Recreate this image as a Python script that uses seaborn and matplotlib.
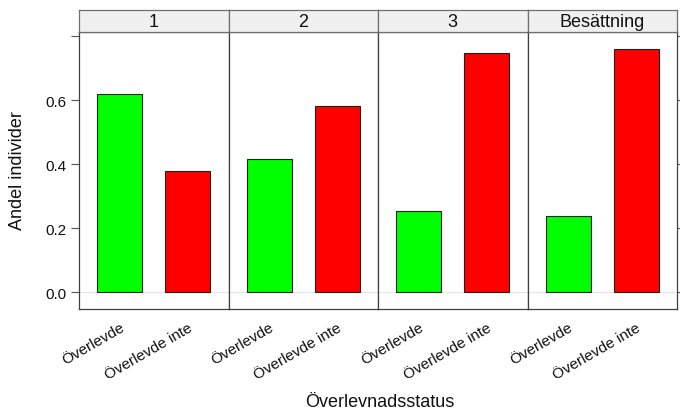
import matplotlib
matplotlib.use("Agg")
import matplotlib.pyplot as plt
import seaborn as sns
import pandas as pd

sns.set_style("white")
plt.rcParams["font.family"] = ["Liberation Sans", "DejaVu Sans"]

# Survival shares per travel class
klasser = ["1", "2", "3", "Besättning"]
status = ["Överlevde", "Överlevde inte"]
andel_overlevde = [0.62, 0.415, 0.252, 0.239]
andel_inte = [0.378, 0.582, 0.746, 0.758]
farger = {"Överlevde": "#00FF00", "Överlevde inte": "#FF0000"}
yticks = [0.0, 0.2, 0.4, 0.6, 0.8]
ytick_labels = ["0.0", "0.2", "0.4", "0.6", ""]

rows = []
for k, a, b in zip(klasser, andel_overlevde, andel_inte):
    rows.append({"klass": k, "status": status[0], "andel": a})
    rows.append({"klass": k, "status": status[1], "andel": b})
df = pd.DataFrame(rows)

W, H = 680, 414
fig = plt.figure(figsize=(W / 100, H / 100), dpi=100)

left_px, right_px = 79, 677
top_px, bottom_px, strip_top_px = 33, 310, 10.5
pw = (right_px - left_px) / len(klasser)
frame_col = "#404040"

for i, k in enumerate(klasser):
    x0 = (left_px + i * pw) / W
    ax = fig.add_axes([x0, 1 - bottom_px / H, pw / W, (bottom_px - top_px) / H])
    sub = df[df["klass"] == k]
    ax.axhline(0, color="#E6E6E6", lw=0.8, zorder=0)
    sns.barplot(data=sub, x="status", y="andel", hue="status", order=status,
                hue_order=status, palette=farger, saturation=1, dodge=False,
                width=0.667, edgecolor="#202020", linewidth=0.8, legend=False,
                ax=ax, zorder=2)
    ax.set_xlim(-0.6, 1.6)
    ax.set_ylim(-0.053, 0.8125)
    ax.set_xlabel("")
    ax.set_ylabel("")
    ax.set_xticks(range(len(status)))
    ax.set_xticklabels(status, rotation=30, ha="right", va="top",
                       rotation_mode="anchor", fontsize=11, color="#111111")
    ax.tick_params(axis="x", length=0, pad=8)
    ax.set_yticks(yticks)
    if i == 0:
        ax.set_yticklabels(ytick_labels, fontsize=11, color="#111111")
        ax.tick_params(axis="y", left=True, length=6, width=0.8,
                       color="#555555", pad=3)
    elif i == len(klasser) - 1:
        ax.yaxis.tick_right()
        ax.set_yticklabels([])
        ax.tick_params(axis="y", right=True, length=6, width=0.8,
                       color="#555555")
    else:
        ax.set_yticklabels([])
        ax.tick_params(axis="y", left=False, right=False, length=0)
    for s in ax.spines.values():
        s.set_visible(True)
        s.set_color(frame_col)
        s.set_linewidth(0.9)

    # strip with panel label
    sax = fig.add_axes([x0, 1 - top_px / H, pw / W, (top_px - strip_top_px) / H])
    sax.set_xticks([])
    sax.set_yticks([])
    sax.set_facecolor("#F0F0F0")
    for s in sax.spines.values():
        s.set_color("#707070")
        s.set_linewidth(0.9)
    sax.text(0.5, 0.45, k, ha="center", va="center", fontsize=13,
             color="#111111", transform=sax.transAxes)

fig.text(18 / W, 1 - 171 / H, "Andel individer", rotation=90, ha="center",
         va="center", fontsize=13, color="#111111")
fig.text(380 / W, 1 - 403 / H, "Överlevnadsstatus", ha="center",
         va="center", fontsize=13, color="#111111")

fig.savefig("out.png", dpi=100)
